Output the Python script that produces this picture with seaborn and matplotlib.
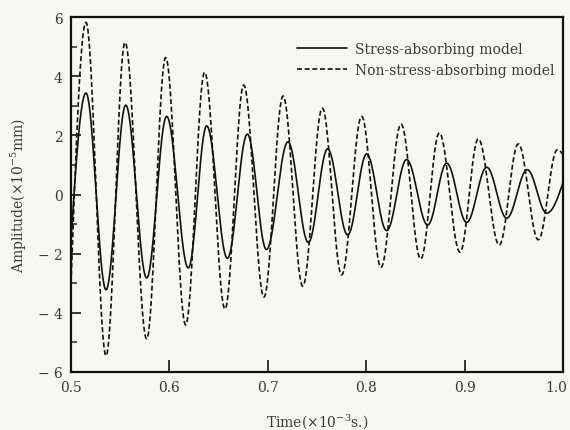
import numpy as np
import pandas as pd
import matplotlib
matplotlib.use("Agg")
import matplotlib.pyplot as plt
import matplotlib.transforms as mtransforms
import seaborn as sns
from matplotlib.ticker import MultipleLocator
from matplotlib.lines import Line2D

# ---- data (extrema and edge values) ----
solid_t = [0.500, 0.5152, 0.5356, 0.5556, 0.5769, 0.5972, 0.6192, 0.6379, 0.6589,
           0.6792, 0.6986, 0.7205, 0.7412, 0.7608, 0.7812, 0.8005, 0.8208, 0.8411,
           0.8625, 0.8818, 0.9021, 0.9225, 0.9428, 0.9637, 0.9835, 1.000]
solid_a = [-1.5, 3.43, -3.22, 3.02, -2.82, 2.64, -2.48, 2.32, -2.16,
           2.04, -1.86, 1.78, -1.62, 1.54, -1.37, 1.37, -1.22, 1.18,
           -1.03, 1.06, -0.94, 0.92, -0.80, 0.84, -0.63, 0.40]

dash_t = [0.500, 0.5152, 0.5356, 0.5549, 0.5769, 0.5962, 0.6165, 0.6358, 0.6565,
          0.6755, 0.6961, 0.7155, 0.7355, 0.7554, 0.7750, 0.7954, 0.8150, 0.8354,
          0.8554, 0.8743, 0.8953, 0.9139, 0.9352, 0.9546, 0.9749, 0.9942, 1.000]
dash_a = [-3.0, 5.82, -5.45, 5.14, -4.88, 4.63, -4.41, 4.13, -3.87,
          3.70, -3.47, 3.33, -3.10, 2.92, -2.72, 2.64, -2.46, 2.38,
          -2.18, 2.08, -1.95, 1.88, -1.71, 1.71, -1.53, 1.51, 1.35]

labels = ["Stress-absorbing model", "Non-stress-absorbing model"]
x_ticks = [0.5, 0.6, 0.7, 0.8, 0.9, 1.0]
x_ticklabels = ["0.5", "0.6", "0.7", "0.8", "0.9", "1.0"]
y_ticks = [-6, -4, -2, 0, 2, 4, 6]
y_ticklabels = ["\u2212 6", "\u2212 4", "\u2212 2", "0", "2", "4", "6"]


def smooth_trace(ts, vs, n=40):
    """Render a wave through the given extrema with cosine-shaped segments."""
    xs, ys = [], []
    last = len(ts) - 2
    for i in range(len(ts) - 1):
        t0, t1, v0, v1 = ts[i], ts[i + 1], vs[i], vs[i + 1]
        s = np.linspace(0, 1, n, endpoint=(i == last))
        if i == 0:
            w = np.sin(np.pi / 2 * s)
        elif i == last:
            w = 1 - np.cos(np.pi / 2 * s)
        else:
            w = (1 - np.cos(np.pi * s)) / 2
        xs.append(t0 + (t1 - t0) * s)
        ys.append(v0 + (v1 - v0) * w)
    return np.concatenate(xs), np.concatenate(ys)


sx, sy = smooth_trace(solid_t, solid_a)
dx, dy = smooth_trace(dash_t, dash_a)
df_s = pd.DataFrame({"time": sx, "amp": sy})
df_d = pd.DataFrame({"time": dx, "amp": dy})

sns.set_style("ticks")
plt.rcParams["font.family"] = ["DejaVu Serif"]
plt.rcParams["mathtext.fontset"] = "dejavuserif"

bg = "#f7f7f5"
txt = "#3a3a3a"
dash = (0, (3.0, 1.6))
fig = plt.figure(figsize=(5.70, 4.31), dpi=100, facecolor=bg)
ax = fig.add_axes([0.1246, 0.1346, 0.8631, 0.8236])
ax.set_facecolor(bg)

sns.lineplot(data=df_s, x="time", y="amp", ax=ax, color="#111111", lw=1.2,
             sort=False, estimator=None)
sns.lineplot(data=df_d, x="time", y="amp", ax=ax, color="#111111", lw=1.2,
             sort=False, estimator=None, linestyle=dash)

ax.set_xlim(0.5, 1.0)
ax.set_ylim(-6, 6)
ax.set_xticks(x_ticks)
ax.set_xticklabels(x_ticklabels)
ax.set_yticks(y_ticks)
ax.set_yticklabels(y_ticklabels)
ax.yaxis.set_minor_locator(MultipleLocator(1))

ax.tick_params(axis="both", which="major", direction="in", length=7, width=1.3,
               labelsize=10, labelcolor=txt, pad=6)
ax.tick_params(axis="y", which="minor", direction="in", length=4, width=1.1)
ax.tick_params(axis="x", which="major", length=8.5)
for sp in ax.spines.values():
    sp.set_visible(True)
    sp.set_linewidth(1.6)
    sp.set_color("#111111")

# keep the last x tick label inside the figure
last_lbl = ax.get_xticklabels()[-1]
last_lbl.set_transform(last_lbl.get_transform() +
                       mtransforms.ScaledTranslation(-5 / 72, 0, fig.dpi_scale_trans))

ax.set_xlabel("Time(\u00d710$^{-3}$s.)", fontsize=10, color=txt, labelpad=12)
ax.set_ylabel("Amplitude(\u00d710$^{-5}$mm)", fontsize=10, color=txt, labelpad=6)

handles = [Line2D([], [], color="#111111", lw=1.2),
           Line2D([], [], color="#111111", lw=1.2, linestyle=dash)]
leg = ax.legend(handles, labels, loc="upper right", frameon=False, fontsize=10,
                handlelength=3.6, handletextpad=0.6, labelspacing=0.5,
                bbox_to_anchor=(1.009, 0.965))
for t in leg.get_texts():
    t.set_color(txt)

fig.savefig("out.png", dpi=100, facecolor=bg)
